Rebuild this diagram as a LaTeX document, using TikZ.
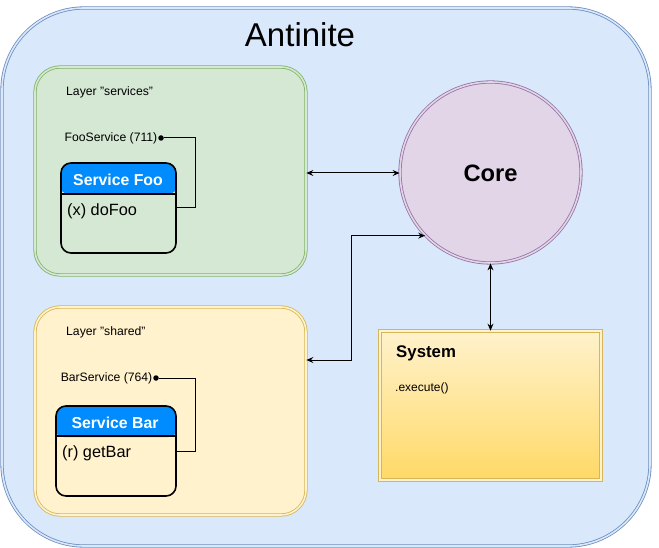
\documentclass[tikz,border=0pt]{standalone}
\usepackage{fontspec}
\setmainfont{Liberation Sans}
\usetikzlibrary{arrows.meta,shapes.geometric}
\definecolor{outerfill}{HTML}{DAE8FC}
\definecolor{outerline}{HTML}{6C8EBF}
\definecolor{greenfill}{HTML}{D5E8D4}
\definecolor{greenline}{HTML}{82B366}
\definecolor{yelfill}{HTML}{FFF2CC}
\definecolor{yelline}{HTML}{D6B656}
\definecolor{yeldark}{HTML}{FFD966}
\definecolor{purfill}{HTML}{E1D5E7}
\definecolor{purline}{HTML}{9673A6}
\definecolor{hdrblue}{HTML}{008CFF}
\newcommand{\fs}[1]{\fontsize{#1}{#1}\selectfont}
\tikzset{
  dbl/.style={line width=0.8pt, double distance=1.6pt},
  layerbox/.style={dbl, rectangle, rounded corners=25pt, minimum width=271pt, minimum height=208pt, inner sep=0pt},
  svcbox/.style={draw=black, line width=1.6pt, rectangle, rounded corners=10pt, inner sep=0pt,
     path picture={\fill[hdrblue] ([yshift=2pt,xshift=-2pt]path picture bounding box.north west) rectangle ([yshift=-31pt,xshift=2pt]path picture bounding box.north east);}},
  svctitle/.style={text=white, font=\fs{15.8}\bfseries, inner sep=0pt},
  svcbody/.style={font=\fs{16.3}, anchor=west, inner sep=0pt},
  small/.style={font=\fs{12.2}, inner sep=0pt},
  portdot/.style={circle, fill=black, minimum size=5.5pt, inner sep=0pt},
  link/.style={draw=black, line width=1pt},
  biarrow/.style={draw=black, line width=1pt, {Stealth[length=7pt,width=6pt,inset=2.5pt]}-{Stealth[length=7pt,width=6pt,inset=2.5pt]}},
}
\begin{document}
\begin{tikzpicture}[x=1pt,y=-1pt]
\useasboundingbox (0,0) rectangle (659,548);
% outer container
\node[dbl, draw=outerline, double=outerfill, fill=outerfill, rectangle, rounded corners=82pt, minimum width=648pt, minimum height=538pt, inner sep=0pt] (outer) at (326,277) {};
\node[font=\fs{33}, inner sep=0pt] (title) at (300,35) {Antinite};
% layers
\node[layerbox, draw=greenline, double=greenfill, fill=greenfill] (services) at (170.5,171) {};
\node[layerbox, draw=yelline, double=yelfill, fill=yelfill] (shared) at (170.5,411) {};
\node[small, anchor=west] (servlbl) at (66,92) {Layer "services"};
\node[small, anchor=west] (sharedlbl) at (66,332) {Layer "shared"};
% service Foo
\node[svcbox, minimum width=115pt, minimum height=90pt] (foo) at (118.5,208) {};
\draw[black, line width=1.2pt] (foo.west |- 0,194) -- (foo.east |- 0,194);
\node[svctitle] (footitle) at (118,180) {Service Foo};
\node[svcbody] (foobody) at (67,211) {(x) doFoo};
\node[portdot] (fooport) at (161,138) {};
\node[small, anchor=east] (foolbl) at (157.5,138.5) {FooService (711)};
\coordinate (footurn) at (195,138);
\draw[link] (foo.east |- 0,208) -| (footurn) -- (fooport);
% service Bar
\node[svcbox, minimum width=120pt, minimum height=90pt] (bar) at (116,451) {};
\draw[black, line width=1.2pt] (bar.west |- 0,436) -- (bar.east |- 0,436);
\node[svctitle] (bartitle) at (115,423) {Service Bar};
\node[svcbody] (barbody) at (62,453) {(r) getBar};
\node[portdot] (barport) at (156,378) {};
\node[small, anchor=east] (barlbl) at (152.5,378.5) {BarService (764)};
\coordinate (barturn) at (195,378);
\draw[link] (bar.east |- 0,451) -| (barturn) -- (barport);
% core
\node[dbl, draw=purline, double=purfill, fill=purfill, circle, minimum size=181pt, inner sep=0pt] (core) at (490.5,172.5) {};
\node[font=\fs{23.7}\bfseries, inner sep=0pt] (corelbl) at (490.5,173) {Core};
% system
\node[dbl, draw=yelline, double=yelfill, top color=yelfill, bottom color=yeldark, rectangle, minimum width=221pt, minimum height=149pt, inner sep=0pt] (system) at (490.5,405.5) {};
\node[font=\fs{16.8}\bfseries, anchor=west, inner sep=0pt] (syslbl) at (396,353) {System};
\node[font=\fs{12}, anchor=west, inner sep=0pt] (exec) at (395,388) {.execute()};
% connectors
\draw[biarrow] (services.east |- 0,173) -- (core.west |- 0,173);
\coordinate (c2) at (core.224.5);
\coordinate (bend) at (351,360);
\draw[biarrow] (shared.east |- bend) -| (bend |- c2) -- (c2);
\draw[biarrow] (core.south) -- (system.north);
\end{tikzpicture}
\end{document}
